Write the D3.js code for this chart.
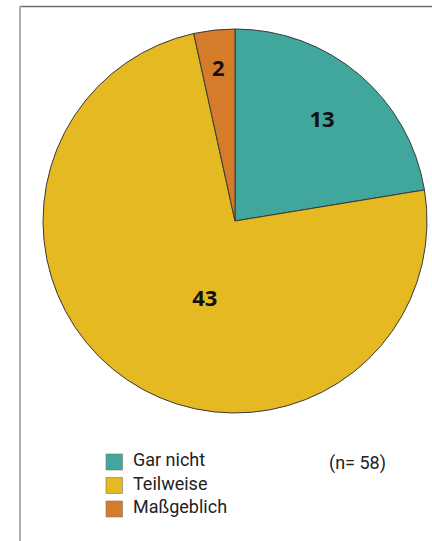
<!DOCTYPE html>
<html>
<head>
<meta charset="utf-8">
<script src="https://cdn.jsdelivr.net/npm/d3@7"></script>
<style>
  body { margin: 0; background: #fff; }
  svg { display: block; }
</style>
</head>
<body>
<svg id="chart"></svg>
<script>
const categories = ["Gar nicht", "Teilweise", "Maßgeblich"];
const values = [13, 43, 2];
const colors = ["#41a69b", "#e4b922", "#d57c2b"];
const sampleNote = "(n= 58)";

const width = 432, height = 541;
const cx = 235, cy = 221, radius = 192;

const svg = d3.select("#chart")
  .attr("width", width)
  .attr("height", height);

// frame lines
svg.append("line")
  .attr("x1", 20).attr("y1", 6.5).attr("x2", width).attr("y2", 6.5)
  .attr("stroke", "#6b6b6b").attr("stroke-width", 1.5);
svg.append("line")
  .attr("x1", 20).attr("y1", 6).attr("x2", 20).attr("y2", height)
  .attr("stroke", "#b0b0b0").attr("stroke-width", 2);

const data = categories.map((c, i) => ({ cat: c, value: values[i], color: colors[i] }));

const pie = d3.pie().sort(null).value(d => d.value);
const arc = d3.arc().innerRadius(0).outerRadius(radius);
const arcs = pie(data);

const g = svg.append("g").attr("transform", `translate(${cx},${cy})`);

g.selectAll("path.slice")
  .data(arcs)
  .join("path")
  .attr("class", "slice")
  .attr("d", arc)
  .attr("fill", d => d.data.color)
  .attr("stroke", "#3a3a3a")
  .attr("stroke-width", 1);

// label placement: fraction of radius and angle shift (radians) per slice
const labelR = [0.70, 0.43, 0.80];
const labelShift = [0, -0.22, 0];

g.selectAll("text.val")
  .data(arcs)
  .join("text")
  .attr("class", "val")
  .attr("x", (d, i) => {
    const a = (d.startAngle + d.endAngle) / 2 + labelShift[i];
    return Math.sin(a) * radius * labelR[i];
  })
  .attr("y", (d, i) => {
    const a = (d.startAngle + d.endAngle) / 2 + labelShift[i];
    return -Math.cos(a) * radius * labelR[i];
  })
  .attr("dy", "0.36em")
  .attr("text-anchor", "middle")
  .attr("font-family", "'Open Sans', sans-serif")
  .attr("font-weight", "bold")
  .attr("font-size", 22)
  .attr("fill", "#111")
  .text(d => d.data.value);

// legend
const legend = svg.append("g").attr("transform", "translate(106,454)");
const row = legend.selectAll("g")
  .data(data)
  .join("g")
  .attr("transform", (d, i) => `translate(0,${i * 23.5})`);

row.append("rect")
  .attr("width", 16.5).attr("height", 16)
  .attr("fill", d => d.color)
  .attr("stroke", "#777").attr("stroke-width", 0.6);

row.append("text")
  .attr("x", 27).attr("y", 12)
  .attr("font-family", "Roboto, sans-serif")
  .attr("font-size", 18)
  .attr("fill", "#222")
  .text(d => d.cat);

svg.append("text")
  .attr("x", 329).attr("y", 469)
  .attr("font-family", "Roboto, sans-serif")
  .attr("font-size", 18)
  .attr("fill", "#222")
  .text(sampleNote);
</script>
</body>
</html>
